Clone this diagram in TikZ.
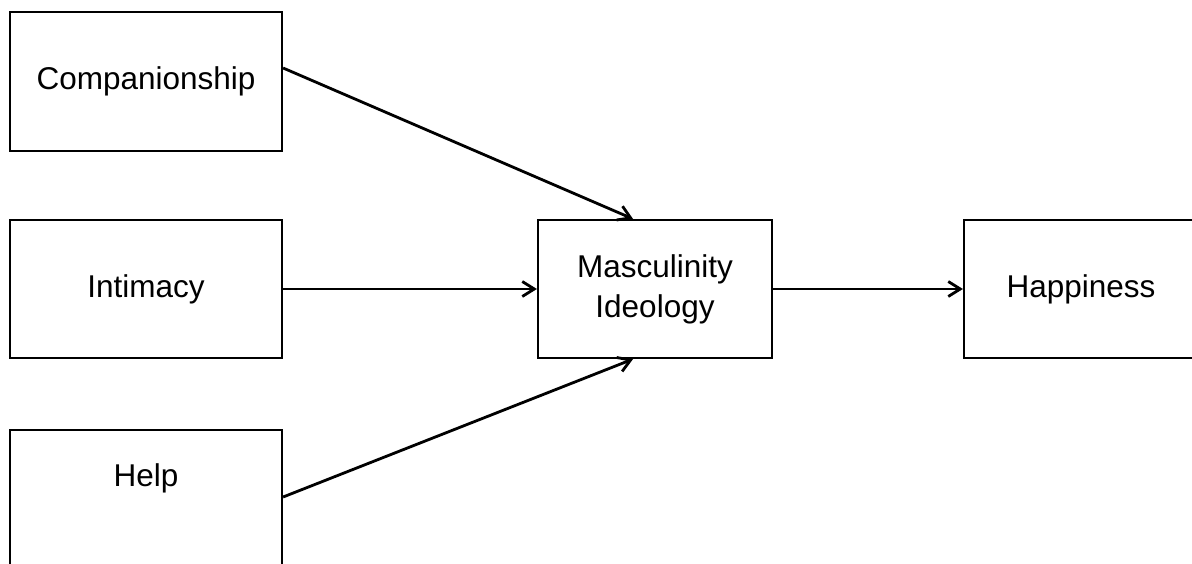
\documentclass[tikz,border=0pt]{standalone}
\usepackage{fontspec}
\setmainfont{Liberation Sans}
\usetikzlibrary{arrows.meta}
\begin{document}
\begin{tikzpicture}[x=1pt,y=1pt,
  box/.style={draw=black, line width=2.2pt, rectangle, inner sep=0pt, align=center,
    font=\fontsize{31.5}{40}\selectfont},
  conn/.style={line width=2.8pt, -{Straight Barb[length=12pt,width=15pt,line width=2.8pt]}}]
\useasboundingbox (0,0) rectangle (1192,563);
\clip (0,0) rectangle (1192,563);
\node[box, minimum width=272pt, minimum height=139pt] (comp) at (146,481.5) {Companionship};
\node[box, minimum width=272pt, minimum height=138pt] (inti) at (146,274) {Intimacy};
\node[box, minimum width=272pt, minimum height=139pt] (help) at (146,63.5) {};
\node[font=\fontsize{31.5}{40}\selectfont] (helptext) at (146,85) {Help};
\node[box, minimum width=234pt, minimum height=138pt] (masc) at (655,274) {Masculinity\\Ideology};
\node[box, minimum width=234pt, minimum height=138pt] (happ) at (1081,274) {Happiness};
\draw[conn] ([yshift=13.5pt]comp.east) -- ([xshift=-22pt]masc.north);
\draw[conn] (inti.east) -- (masc.west);
\draw[conn] ([yshift=2.5pt]help.east) -- ([xshift=-22pt]masc.south);
\draw[conn] (masc.east) -- (happ.west);
\end{tikzpicture}
\end{document}
